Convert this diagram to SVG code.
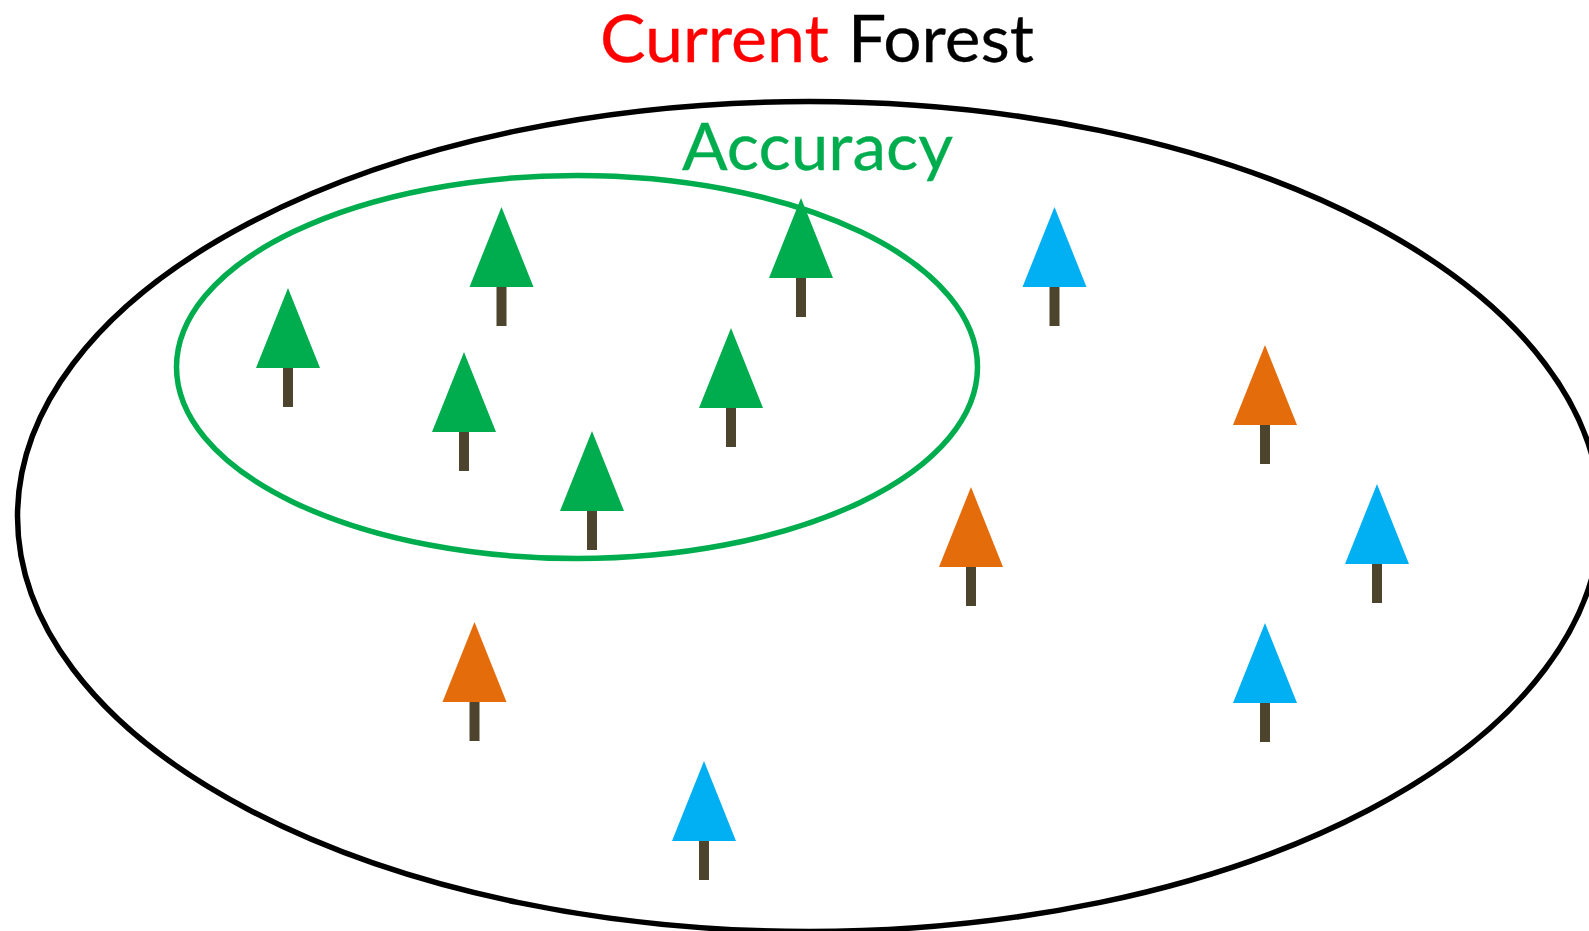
<svg xmlns="http://www.w3.org/2000/svg" xmlns:xlink="http://www.w3.org/1999/xlink" width="1589" height="931" viewBox="0 0 1589 931">
<style>
text{font-family:"Lato","Open Sans","Liberation Sans",sans-serif;font-size:66px;stroke-width:.3px}
.trunk{fill:#4c442c}
.g{fill:#00ad4e}.b{fill:#00b0f2}.o{fill:#e46c0a}
.ring{fill:none}
</style>
<defs>
<g id="stem"><rect class="trunk" x="-5" y="79" width="10" height="39"/></g>
<polygon id="crown" points="0,-1 32,79 -32,79"/>
</defs>
<rect width="1589" height="931" fill="#fff"/>
<g id="connectors"></g>
<g id="forest-boundary"><ellipse class="ring" cx="809" cy="516.5" rx="791.5" ry="415" stroke="#000" stroke-width="5.5"/></g>
<g id="accuracy-boundary"><ellipse class="ring" cx="577" cy="367" rx="400.5" ry="191.5" stroke="#00ad4e" stroke-width="5.5"/></g>
<g id="title"><text x="600" y="62" fill="#ff0000" stroke="#ff0000" textLength="229" lengthAdjust="spacingAndGlyphs">Current</text><text x="848" y="62" fill="#000" stroke="#000" textLength="186" lengthAdjust="spacingAndGlyphs">Forest</text></g>
<g id="accuracy-label"><text x="682" y="170" fill="#00ad4e" stroke="#00ad4e" textLength="271" lengthAdjust="spacingAndGlyphs">Accuracy</text></g>
<g id="tree-g1" transform="translate(288,289)"><use href="#stem"/><use href="#crown" class="g"/></g>
<g id="tree-g2" transform="translate(501.5,208)"><use href="#stem"/><use href="#crown" class="g"/></g>
<g id="tree-g3" transform="translate(801,199)"><use href="#stem"/><use href="#crown" class="g"/></g>
<g id="tree-g4" transform="translate(464,353)"><use href="#stem"/><use href="#crown" class="g"/></g>
<g id="tree-g5" transform="translate(731,329)"><use href="#stem"/><use href="#crown" class="g"/></g>
<g id="tree-g6" transform="translate(592,432)"><use href="#stem"/><use href="#crown" class="g"/></g>
<g id="tree-b1" transform="translate(1054.5,208)"><use href="#stem"/><use href="#crown" class="b"/></g>
<g id="tree-b2" transform="translate(1377,485)"><use href="#stem"/><use href="#crown" class="b"/></g>
<g id="tree-b3" transform="translate(1265,624)"><use href="#stem"/><use href="#crown" class="b"/></g>
<g id="tree-b4" transform="translate(704,762)"><use href="#stem"/><use href="#crown" class="b"/></g>
<g id="tree-o1" transform="translate(1265,346)"><use href="#stem"/><use href="#crown" class="o"/></g>
<g id="tree-o2" transform="translate(971,488)"><use href="#stem"/><use href="#crown" class="o"/></g>
<g id="tree-o3" transform="translate(474.5,623)"><use href="#stem"/><use href="#crown" class="o"/></g>
</svg>
